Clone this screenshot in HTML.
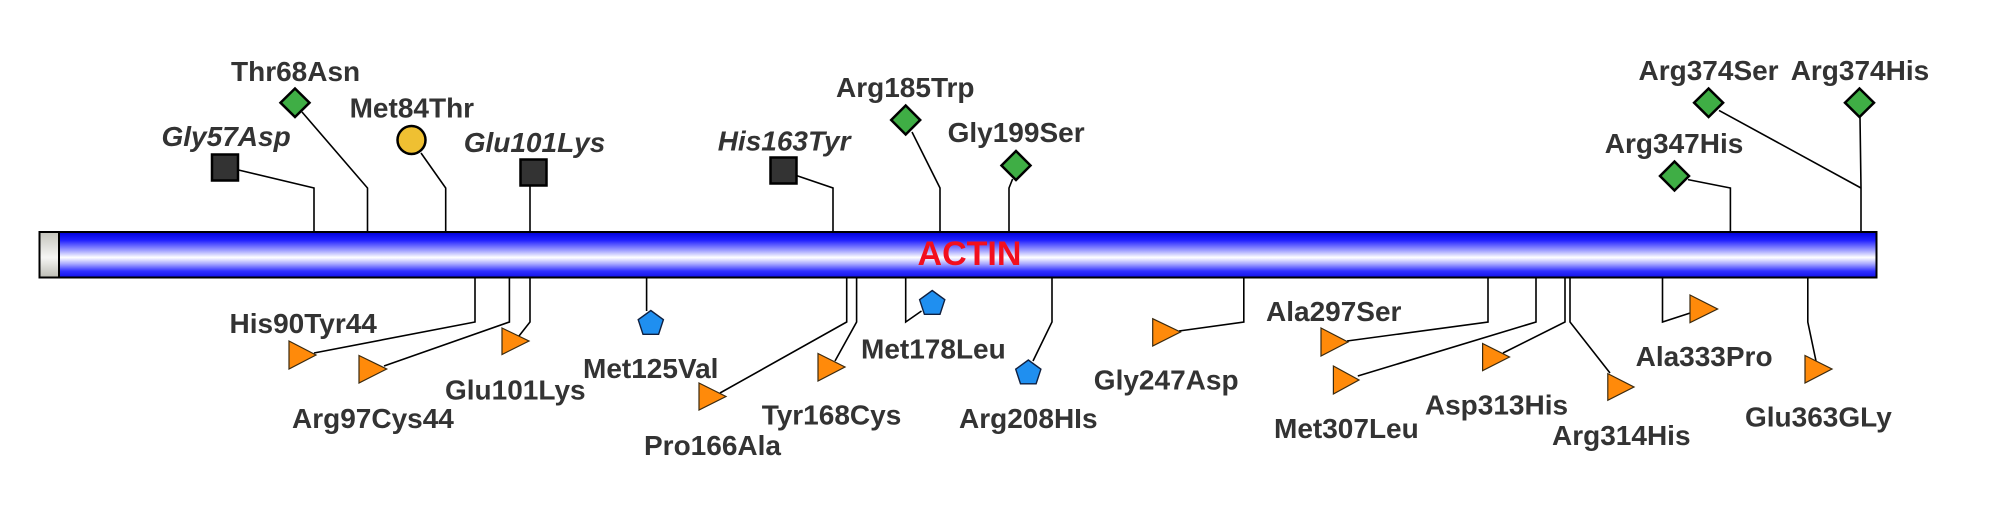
<!DOCTYPE html>
<html>
<head>
<meta charset="utf-8">
<style>
html,body{margin:0;padding:0;background:#fff;}
svg{display:block;}
text{font-family:"Liberation Sans",Arial,sans-serif;font-weight:bold;font-size:28px;fill:#333333;}
text.it{font-style:italic;}
</style>
</head>
<body>
<svg width="2005" height="524" viewBox="0 0 2005 524" xmlns="http://www.w3.org/2000/svg">
<defs>
<linearGradient id="bar" x1="0" y1="0" x2="0" y2="1">
<stop offset="0" stop-color="#0000d8"/>
<stop offset="0.18" stop-color="#2020ff"/>
<stop offset="0.42" stop-color="#a8a8ff"/>
<stop offset="0.56" stop-color="#ffffff"/>
<stop offset="0.70" stop-color="#a8a8ff"/>
<stop offset="0.86" stop-color="#3030ff"/>
<stop offset="1" stop-color="#1010e8"/>
</linearGradient>
<linearGradient id="cap" x1="0" y1="0" x2="0" y2="1">
<stop offset="0" stop-color="#c4c4bc"/>
<stop offset="0.56" stop-color="#f6f6f4"/>
<stop offset="1" stop-color="#bcbcb4"/>
</linearGradient>
</defs>
<rect width="2005" height="524" fill="#fff"/>

<!-- connectors -->
<g fill="none" stroke="#000" stroke-width="1.6">
<polyline points="238.5,170 314,188 314,232"/>
<polyline points="302,112 367.5,188 367.5,232"/>
<polyline points="421,153 445.7,188 445.7,232"/>
<polyline points="530,185 530,232"/>
<polyline points="796.7,175.6 833,188 833,232"/>
<polyline points="912,132 940,188 940,232"/>
<polyline points="1012.6,179 1009,188 1009,232"/>
<polyline points="1719,110.4 1861,188"/>
<polyline points="1860,117 1861,188 1861,232"/>
<polyline points="1688,179.6 1730.4,188 1730.4,232"/>

<polyline points="475,278 475,322 314,353"/>
<polyline points="509.4,278 509.4,322 384,366"/>
<polyline points="530,278 530,322 519,336"/>
<polyline points="646.6,278 646.6,311"/>
<polyline points="846.7,278 846.7,322 720,393"/>
<polyline points="856.6,278 856.6,322 835,361"/>
<polyline points="905.7,278 905.7,322 921.5,311"/>
<polyline points="1052,278 1052,322 1033,361"/>
<polyline points="1243.8,278 1243.8,322 1179,331"/>
<polyline points="1488,278 1488,322 1347,341"/>
<polyline points="1536,278 1536,322 1357.8,376"/>
<polyline points="1565,278 1565,322 1503,353"/>
<polyline points="1570,278 1570,322 1610,373"/>
<polyline points="1662.5,278 1662.5,322 1691,312.7"/>
<polyline points="1807.8,278 1807.8,322 1816,361"/>
</g>

<!-- bar -->
<rect x="39.5" y="232" width="1837" height="45.5" fill="url(#bar)" stroke="#000" stroke-width="2"/>
<rect x="39.5" y="232" width="19.5" height="45.5" fill="url(#cap)" stroke="#000" stroke-width="2"/>
<text x="969.5" y="265" text-anchor="middle" style="fill:#f20f1e;font-size:34px;">ACTIN</text>

<!-- squares -->
<g fill="#333" stroke="#000" stroke-width="2.5">
<rect x="212" y="154.5" width="26" height="26"/>
<rect x="520.5" y="159.5" width="26" height="26"/>
<rect x="770.5" y="157.5" width="26" height="26"/>
</g>

<!-- diamonds -->
<g fill="#3fae45" stroke="#000" stroke-width="2.5">
<polygon points="295,88.5 309.5,102.7 295,117 280.5,102.7"/>
<polygon points="905.7,105.5 920.2,120 905.7,134.5 891.2,120"/>
<polygon points="1016,151 1030.5,165.5 1016,180 1001.5,165.5"/>
<polygon points="1708.6,88.5 1723.1,102.7 1708.6,117 1694.1,102.7"/>
<polygon points="1859.5,88.5 1874,102.7 1859.5,117 1845,102.7"/>
<polygon points="1674.5,161.5 1689,176 1674.5,190.5 1660,176"/>
</g>

<!-- circle -->
<circle cx="411.5" cy="140" r="14" fill="#efc032" stroke="#000" stroke-width="2.5"/>

<!-- pentagons -->
<g fill="#1f8ff0" stroke="#102040" stroke-width="1.4">
<polygon points="650.8,310.5 663.4,319.7 658.6,334.3 643,334.3 638.2,319.7"/>
<polygon points="932.2,290.5 944.8,299.7 940,314.3 924.4,314.3 919.6,299.7"/>
<polygon points="1028.3,360 1040.9,369.2 1036.1,383.8 1020.5,383.8 1015.7,369.2"/>
</g>

<!-- triangles -->
<g fill="#ff8a0a" stroke="#3a2a10" stroke-width="1.2">
<polygon points="289,341 316,355 289,369"/>
<polygon points="359,355.5 386.7,369 359,383"/>
<polygon points="502,328 529,341 502,354.5"/>
<polygon points="699,383 726,396.5 699,410"/>
<polygon points="818,353.5 845,367 818,381"/>
<polygon points="1152.7,318.7 1180.5,332 1152.7,346"/>
<polygon points="1321,328 1348,342 1321,356"/>
<polygon points="1333.4,366 1359,380 1333.4,394"/>
<polygon points="1482.6,343.5 1509.5,357 1482.6,370.6"/>
<polygon points="1607.8,373.6 1634,387 1607.8,400.3"/>
<polygon points="1690,295 1717.6,309 1690,322.7"/>
<polygon points="1805,355.5 1832,369 1805,383"/>
</g>

<!-- labels above -->
<text class="it" x="161.5" y="146">Gly57Asp</text>
<text x="231" y="81">Thr68Asn</text>
<text x="349.6" y="117.7">Met84Thr</text>
<text class="it" x="463.7" y="152">Glu101Lys</text>
<text class="it" x="717.7" y="150.5">His163Tyr</text>
<text x="836" y="97">Arg185Trp</text>
<text x="947.6" y="142">Gly199Ser</text>
<text x="1638.5" y="80">Arg374Ser</text>
<text x="1790.7" y="80">Arg374His</text>
<text x="1604.8" y="153">Arg347His</text>

<!-- labels below -->
<text x="229.5" y="333">His90Tyr44</text>
<text x="292" y="428">Arg97Cys44</text>
<text x="445" y="399.7">Glu101Lys</text>
<text x="583" y="378">Met125Val</text>
<text x="644" y="455">Pro166Ala</text>
<text x="761.7" y="424.7">Tyr168Cys</text>
<text x="861" y="358.5">Met178Leu</text>
<text x="959" y="428">Arg208HIs</text>
<text x="1093.8" y="389.6">Gly247Asp</text>
<text x="1266" y="321">Ala297Ser</text>
<text x="1274" y="438">Met307Leu</text>
<text x="1424.9" y="414.7">Asp313His</text>
<text x="1552" y="444.8">Arg314His</text>
<text x="1635.6" y="366">Ala333Pro</text>
<text x="1745" y="426.4">Glu363GLy</text>
</svg>
</body>
</html>
